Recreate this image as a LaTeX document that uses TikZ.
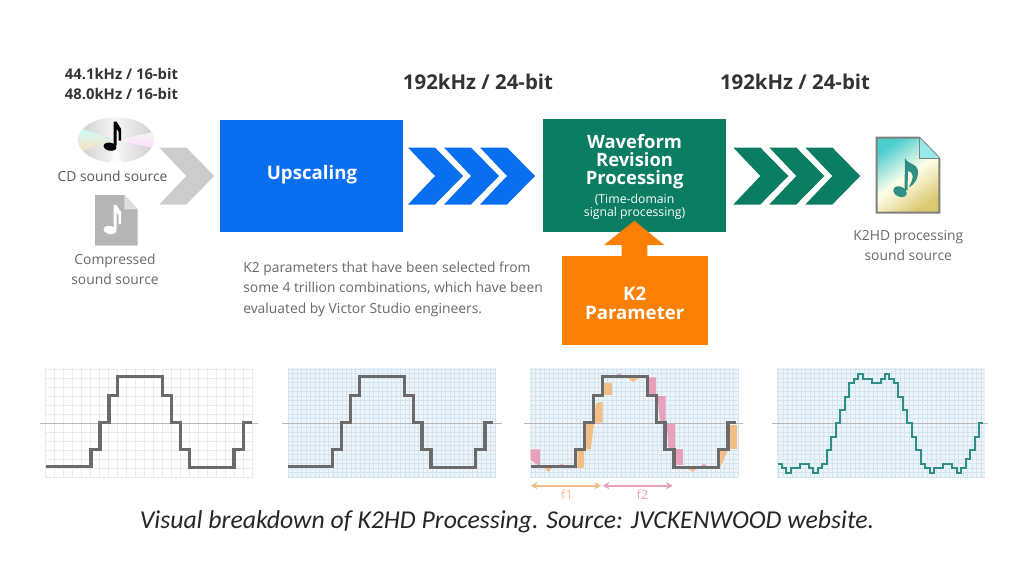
\documentclass[tikz,border=0pt]{standalone}
\usepackage{fontspec}
\usepackage{xcolor}
\setmainfont{Open Sans}
\newfontfamily\captionfont{Carlito}
\usetikzlibrary{arrows.meta,positioning,calc,shapes.geometric}
\definecolor{upblue}{HTML}{0A6FEE}
\definecolor{wavegreen}{HTML}{0B7D63}
\definecolor{paramorange}{HTML}{F97F05}
\definecolor{chevgray}{HTML}{CCCCCC}
\definecolor{labelgray}{HTML}{686868}
\definecolor{headgray}{HTML}{333333}
\definecolor{stepgray}{HTML}{6B6B6B}
\definecolor{panelblue}{HTML}{EDF5FB}
\definecolor{gridblue}{HTML}{D3E5F1}
\definecolor{curveteal}{HTML}{2F8F84}
\definecolor{fone}{HTML}{F2BE86}
\definecolor{ftwo}{HTML}{E8A0BC}
\tikzset{
  bigbox/.style={inner sep=0pt,outer sep=0pt},
  boxtext/.style={text=white,align=center,inner sep=0pt,font=\fontsize{14}{14}\selectfont\bfseries},
  headlabel/.style={text=headgray,align=center,font=\fontsize{15.3}{15}\selectfont\bfseries},
  ratelabel/.style={text=headgray,align=center,font=\fontsize{11.1}{15}\selectfont\bfseries},
  srclabel/.style={text=labelgray,align=center,font=\fontsize{10.4}{15}\selectfont},
  chev/.pic={\fill[pic actions] (0,0) -- (27,0) -- (55,28.5) -- (27,57) -- (0,57) -- (27,28.5) -- cycle;},
  notemark/.pic={
    \fill[pic actions,rotate=-10] (0,0) ellipse [x radius=6.5,y radius=4];
    \fill[pic actions] (3.5,-25) -- (6.5,-25) -- (11,-18) -- (11,-6) -- (8.5,-6) -- (8.5,-15) -- (6.5,-18) -- (6.5,-1) -- (3.5,-1) -- cycle;
  },
}
\newcommand{\stepwave}{(46,466.7) -| (91,449.3) -| (100,422.7) -| (109,395.3) -| (117.7,376.7) -| (162.7,395.3) -| (171.7,422.7) -| (180.3,449.3) -| (189.3,467.5) -| (234,449.3) -| (243.3,422.7) -- (251.7,422.7)}
\begin{document}
\begin{tikzpicture}[x=0.75pt,y=-0.75pt]
  \useasboundingbox (0,0) rectangle (1024,576);
  % source side
  \node[ratelabel] (rates) at (121.5,84) {44.1kHz / 16-bit\\48.0kHz / 16-bit};
  \begin{scope}
    \clip (116,140) ellipse [x radius=37.7,y radius=22.7];
    \shade[left color=gray!38,right color=gray!38,middle color=gray!8] (78,117) rectangle (154,163);
    \shade[top color=cyan!22,bottom color=orange!28] (116,140) -- (78,128) -- (78,152) -- cycle;
    \shade[top color=gray!8,bottom color=magenta!12] (116,140) -- (154,132) -- (154,148) -- cycle;
    \fill[white,opacity=0.7] (116,140) -- (110,163) -- (122,163) -- cycle;
  \end{scope}
  \pic[black] at (110,146.7) {notemark};
  \node[srclabel,text=labelgray!85!black] (cdlabel) at (112.5,176) {CD sound source};
  \fill[gray!58] (95,195) -- (124.3,195) -- (137.7,209.3) -- (137.7,245.7) -- (95,245.7) -- cycle;
  \fill[gray!25] (124.3,195) -- (137.7,209.3) -- (124.3,209.3) -- cycle;
  \pic[white] at (110,230) {notemark};
  \node[srclabel] (complabel) at (115,269) {Compressed\\sound source};
  \pic[chevgray] at (159.3,147.5) {chev};
  % processing chain
  \node[bigbox,fill=upblue,minimum width=183*0.75pt,minimum height=112.5*0.75pt] (upscale) at (311.5,176) {};
  \node[boxtext] (upscaletext) at (312,175) {Upscaling};
  \node[headlabel] (midrate) at (478,82) {192kHz / 24-bit};
  \foreach \i in {0,1,2}{
    \pic[upblue] at (408+\i*36,147.5) {chev};
    \pic[wavegreen] at (733.3+\i*36,147.5) {chev};
  }
  \node[bigbox,fill=wavegreen,minimum width=182.7*0.75pt,minimum height=112.4*0.75pt] (revision) at (634.6,175.5) {};
  \node[boxtext,font=\fontsize{13.8}{13.5}\selectfont\bfseries] (revisiontext) at (634.6,162) {Waveform\\Revision\\Processing};
  \node[boxtext,font=\fontsize{9.2}{9.5}\selectfont] (revisionsub) at (634.6,206.5) {(Time-domain\\signal processing)};
  \node[headlabel] (outrate) at (795,82) {192kHz / 24-bit};
  \fill[paramorange] (634.3,220.7) -- (664.3,245) -- (647.3,245) -- (647.3,256) -- (621.7,256) -- (621.7,245) -- (604,245) -- cycle;
  \node[bigbox,fill=paramorange,minimum width=146*0.75pt,minimum height=89.3*0.75pt] (param) at (634.7,300.3) {};
  \node[boxtext] (paramtext) at (634.7,303.5) {K2\\Parameter};
  \node[text=labelgray,align=left,anchor=north west,inner sep=0pt,font=\fontsize{10.4}{15.3}\selectfont] (note) at (243,261.5) {K2 parameters that have been selected from\\some 4 trillion combinations, which have been\\evaluated by Victor Studio engineers.};
  % output file
  \shade[left color=teal!55!cyan!70,right color=orange!35!yellow!60!gray!70,middle color=yellow!8,shading angle=35] (876.7,137.7) -- (919.3,137.7) -- (939.3,158.3) -- (939.3,212.7) -- (876.7,212.7) -- cycle;
  \draw[gray,line width=1.5pt] (876.7,137.7) -- (919.3,137.7) -- (939.3,158.3) -- (939.3,212.7) -- (876.7,212.7) -- cycle;
  \fill[teal!40!cyan!40] (919.3,137.7) -- (939.3,158.3) -- (919.3,158.3) -- cycle;
  \draw[gray,line width=1pt] (919.3,137.7) -- (919.3,158.3) -- (939.3,158.3);
  \fill[curveteal,rotate around={-25:(900,191.7)}] (900,191.7) ellipse [x radius=7,y radius=5];
  \fill[curveteal] (904.5,190) -- (905,158) .. controls (908,166) and (922,162) .. (917,178) .. controls (915,183) and (912,186) .. (909,187) .. controls (914,178) and (914,172) .. (908,171) -- (907.5,190) -- cycle;
  \node[srclabel] (outlabel) at (908.3,245) {K2HD processing\\sound source};
  % waveform panels
  \draw[gray!15,line width=0.4pt,step=6.75pt] (45,477) grid (253,368);
  \foreach \dx in {288,530,777}{
    \fill[panelblue] (\dx,368) rectangle (\dx+208,477);
    \draw[gridblue,line width=0.3pt,step=3.375pt] (\dx,477) grid (\dx+208,368);
  }
  \begin{scope}[shift={(520,360)},scale=1/3]
    \fill[ftwo] (32,268) -- (60,268) -- (60,320) -- (32,300) -- cycle;
    \fill[fone] (70,320) -- (100,320) -- (85,336) -- cycle;
    \fill[ftwo] (105,320) -- (140,320) -- (125,312) -- cycle;
    \fill[fone] (172,325) -- (192,322) -- (192,268) -- (172,268) -- cycle;
    \fill[fone] (192,268) -- (212,268) -- (222,190) -- (192,190) -- cycle;
    \fill[fone] (220,188) -- (248,188) -- (248,125) -- (228,130) -- cycle;
    \fill[fone] (248,106) -- (275,106) -- (275,70) -- (248,70) -- cycle;
    \fill[ftwo] (280,50) -- (315,50) -- (298,40) -- cycle;
    \fill[fone] (320,52) -- (360,52) -- (340,66) -- cycle;
    \fill[ftwo] (385,52) -- (408,52) -- (408,105) -- (385,100) -- cycle;
    \fill[ftwo] (412,108) -- (437,108) -- (437,185) -- (420,185) -- cycle;
    \fill[ftwo] (440,190) -- (465,190) -- (465,268) -- (445,262) -- cycle;
    \fill[ftwo] (468,268) -- (490,268) -- (490,315) -- (468,315) -- cycle;
    \fill[fone] (500,322) -- (535,322) -- (518,336) -- cycle;
    \fill[ftwo] (535,322) -- (570,322) -- (552,312) -- cycle;
    \fill[fone] (600,322) -- (622,275) -- (622,270) -- (600,270) -- cycle;
    \fill[fone] (630,268) -- (652,268) -- (652,195) -- (630,195) -- cycle;
  \end{scope}
  \foreach \dx/\lx/\rx in {0/40/258,241.7/282/502,484.7/524/743}{
    \draw[gray!55,line width=0.5pt] (\lx,423) -- (\rx,423);
    \draw[stepgray,line width=2.3pt,xshift=\dx*0.75pt] \stepwave;
  }
  \draw[gray!55,line width=0.5pt] (772,423) -- (988,423);
  \begin{scope}[shift={(770,360)},scale=1/3]
    \draw[curveteal,line width=1.6pt] (25,312) -| (35,325) -| (48,338) -| (62,325) -| (90,312) -| (117,325) -| (130,338) -| (143,325) -| (157,312) -| (170,270) -| (184,232) -| (197,190) -| (210,150) -| (224,110) -| (238,70) -| (251,56) -| (265,42) -| (278,56) -| (305,70) -| (332,56) -| (345,42) -| (358,56) -| (372,70) -| (385,110) -| (398,150) -| (412,190) -| (425,232) -| (439,270) -| (452,312) -| (465,325) -| (479,338) -| (492,325) -| (520,312) -| (547,325) -| (560,338) -| (574,325) -| (587,298) -| (601,270) -| (614,232) -| (628,190) -- (638,190);
  \end{scope}
  % band marks
  \coordinate (fonea) at (530.7,485.7);
  \coordinate (foneb) at (601,485.7);
  \coordinate (ftwoa) at (602.7,485.7);
  \coordinate (ftwob) at (672.7,485.7);
  \draw[fone,line width=1.2pt,{Stealth[length=5pt,width=5.5pt]}-{Stealth[length=5pt,width=5.5pt]}] (fonea) -- (foneb);
  \draw[ftwo,line width=1.2pt,{Stealth[length=5pt,width=5.5pt]}-{Stealth[length=5pt,width=5.5pt]}] (ftwoa) -- (ftwob);
  \node[text=fone,font=\fontsize{9.5}{10}\selectfont] (fonelabel) at (567,494.5) {f1};
  \node[text=ftwo,font=\fontsize{9.5}{10}\selectfont] (ftwolabel) at (642.5,494.5) {f2};
  \node[text=black!85,font=\captionfont\itshape\fontsize{19.3}{20}\selectfont] (caption) at (507,522) {Visual breakdown of K2HD Processing. Source: JVCKENWOOD website.};
\end{tikzpicture}
\end{document}
